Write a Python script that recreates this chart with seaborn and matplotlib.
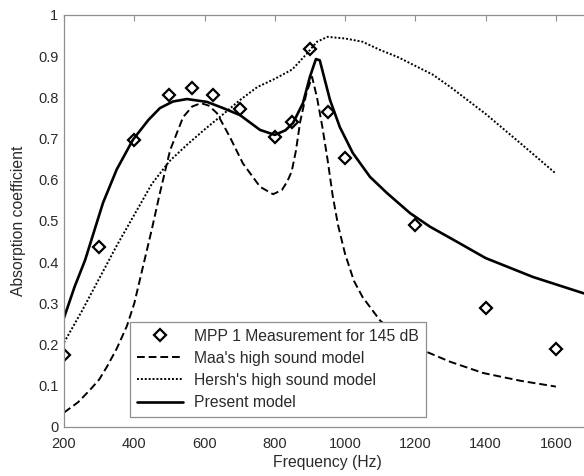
import matplotlib
matplotlib.use("Agg")
import matplotlib.pyplot as plt
import seaborn as sns
from matplotlib.ticker import FuncFormatter

# Measurement (diamonds)
meas_freq = [200, 300, 400, 500, 563, 625, 700, 800, 850, 900, 950, 1000, 1200, 1400, 1600]
meas_abs = [0.175, 0.438, 0.697, 0.806, 0.822, 0.807, 0.773, 0.704, 0.740, 0.918, 0.765, 0.653, 0.490, 0.289, 0.189]

# Maa's high sound model (dashed)
maa_freq = [200, 240, 274, 300, 322, 350, 379, 400, 425, 450, 473, 502, 539, 565, 590, 612, 635, 672,
            709, 758, 795, 820, 835, 848, 860, 872, 890, 906, 920, 935, 950, 965, 980, 1000, 1025,
            1050, 1100, 1150, 1233, 1300, 1393, 1500, 1600]
maa_abs = [0.035, 0.060, 0.090, 0.115, 0.146, 0.190, 0.245, 0.300, 0.390, 0.480, 0.568, 0.672, 0.752,
           0.778, 0.786, 0.780, 0.762, 0.704, 0.640, 0.583, 0.565, 0.575, 0.595, 0.620, 0.670, 0.740,
           0.810, 0.850, 0.800, 0.730, 0.650, 0.560, 0.490, 0.420, 0.355, 0.315, 0.258, 0.222,
           0.182, 0.158, 0.131, 0.112, 0.098]

# Hersh's high sound model (dotted)
hersh_freq = [200, 250, 300, 350, 400, 450, 500, 550, 600, 650, 700, 750, 800, 850, 890, 920, 950,
              1000, 1050, 1100, 1150, 1250, 1300, 1400, 1500, 1600]
hersh_abs = [0.205, 0.280, 0.360, 0.440, 0.515, 0.590, 0.645, 0.685, 0.722, 0.757, 0.793, 0.825,
             0.845, 0.868, 0.905, 0.935, 0.947, 0.943, 0.935, 0.915, 0.898, 0.855, 0.825, 0.760,
             0.688, 0.615]

# Present model (solid)
present_freq = [200, 230, 260, 311, 350, 396, 440, 473, 510, 550, 607, 650, 701, 758, 800, 830, 852,
                880, 900, 917, 928, 957, 985, 1022, 1071, 1119, 1185, 1242, 1307, 1400, 1535, 1677, 1700]
present_abs = [0.265, 0.340, 0.405, 0.544, 0.625, 0.697, 0.745, 0.774, 0.790, 0.796, 0.789, 0.775,
               0.757, 0.721, 0.709, 0.720, 0.738, 0.786, 0.850, 0.893, 0.890, 0.794, 0.728, 0.665,
               0.607, 0.568, 0.519, 0.486, 0.455, 0.410, 0.364, 0.325, 0.320]

x_ticks = [200, 400, 600, 800, 1000, 1200, 1400, 1600]
y_ticks = [0, 0.1, 0.2, 0.3, 0.4, 0.5, 0.6, 0.7, 0.8, 0.9, 1.0]

TEXT = "#2a2a2a"
EDGE = "#8f8f8f"

sns.set_style("white")
plt.rcParams["font.family"] = ["Liberation Sans", "DejaVu Sans"]

fig = plt.figure(figsize=(5.84, 4.76), dpi=100)
# right edge of the axes falls just outside the figure, like the cropped original
ax = fig.add_axes([0.1096, 0.103, 0.9024, 0.8655])

sns.lineplot(x=meas_freq, y=meas_abs, ax=ax, marker="D", linestyle="", markersize=6.5,
             markerfacecolor="none", markeredgecolor="k", markeredgewidth=1.6, color="k",
             sort=False, estimator=None, label="MPP 1 Measurement for 145 dB")
sns.lineplot(x=maa_freq, y=maa_abs, ax=ax, color="k", linestyle=(0, (4, 2)), linewidth=1.4,
             sort=False, estimator=None, label="Maa's high sound model")
sns.lineplot(x=hersh_freq, y=hersh_abs, ax=ax, color="k", linestyle=(0, (1, 1)), linewidth=1.4,
             sort=False, estimator=None, label="Hersh's high sound model")
sns.lineplot(x=present_freq, y=present_abs, ax=ax, color="k", linestyle="-", linewidth=1.9,
             sort=False, estimator=None, label="Present model")

ax.set_xlim(200, 1700)
ax.set_ylim(0, 1)
ax.set_xticks(x_ticks)
ax.set_yticks(y_ticks)
ax.yaxis.set_major_formatter(FuncFormatter(lambda v, p: f"{v:g}"))
ax.tick_params(direction="in", length=4, width=0.8, color=EDGE, labelcolor=TEXT,
               top=True, right=True, labelsize=10.5)
ax.tick_params(axis="x", pad=7)
ax.tick_params(axis="y", pad=4)
for s in ax.spines.values():
    s.set_color(EDGE)
    s.set_linewidth(0.9)

ax.set_xlabel("Frequency (Hz)", color=TEXT, fontsize=11.3, labelpad=3)
ax.set_ylabel("Absorption coefficient", color=TEXT, fontsize=11.3, labelpad=9)

leg = ax.legend(loc="lower left", bbox_to_anchor=(0.125, 0.024), borderaxespad=0,
                frameon=True, fancybox=False, edgecolor=EDGE, facecolor="white",
                framealpha=1, fontsize=11.3, handlelength=2.95, handletextpad=0.7,
                labelspacing=0.45, borderpad=0.45)
leg.get_frame().set_linewidth(0.9)
for t in leg.get_texts():
    t.set_color(TEXT)

fig.savefig("out.png", dpi=100)
